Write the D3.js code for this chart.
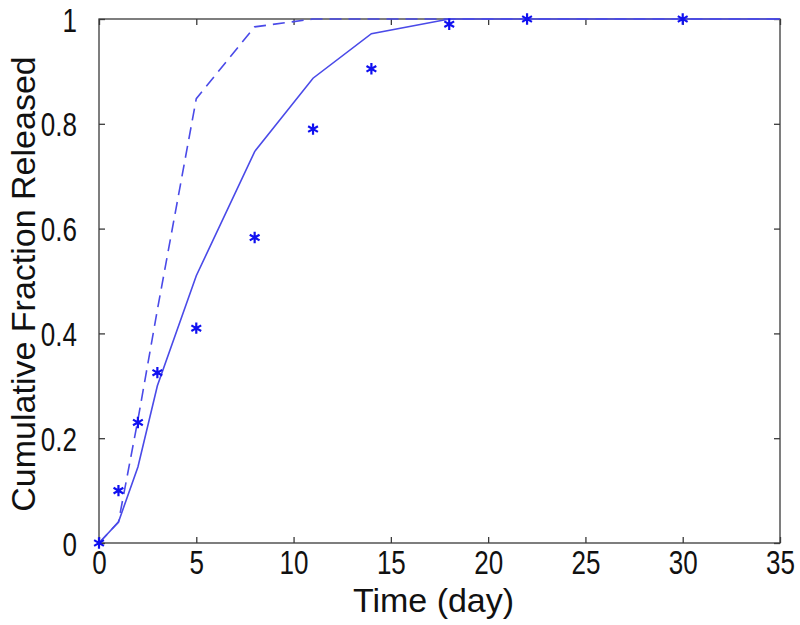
<!DOCTYPE html>
<html>
<head>
<meta charset="utf-8">
<script src="https://cdn.jsdelivr.net/npm/d3@7"></script>
<style>
  body { margin: 0; background: #fff; }
  svg { display: block; }
  text { font-family: Arial, "Liberation Sans", sans-serif; fill: #111; }
</style>
</head>
<body>
<svg id="chart" width="800" height="625"></svg>
<script>
// ---- data ----
const obsTime = [0, 1, 2, 3, 5, 8, 11, 14, 18, 22, 30];
const obsFrac = [0, 0.10, 0.23, 0.325, 0.41, 0.583, 0.79, 0.905, 0.99, 1.0, 1.0];

const solidTime = [0, 1, 2, 3, 5, 8, 11, 14, 18, 22, 30, 35];
const solidFrac = [0, 0.04, 0.145, 0.30, 0.51, 0.747, 0.887, 0.972, 1.0, 1.0, 1.0, 1.0];

const dashTime = [0, 1, 2, 3, 5, 8, 11, 14, 18, 22, 30, 35];
const dashFrac = [0, 0.04, 0.235, 0.445, 0.848, 0.985, 1.0, 1.0, 1.0, 1.0, 1.0, 1.0];

const xTicks = [0, 5, 10, 15, 20, 25, 30, 35];
const yTicks = [0, 0.2, 0.4, 0.6, 0.8, 1];
const yTickLabels = ["0", "0.2", "0.4", "0.6", "0.8", "1"];

const xLabel = "Time (day)";
const yLabel = "Cumulative Fraction Released";

// ---- layout ----
const L = 99, R = 780, T = 19, B = 543;
const svg = d3.select("#chart");
const x = d3.scaleLinear().domain([0, 35]).range([L, R]);
const y = d3.scaleLinear().domain([0, 1]).range([B, T]);

const axisColor = "#3a3a3a";
const lineColor = "#4a4ae8";
const starColor = "#1010f0";
const stretch = 1.28;

// frame
svg.append("rect").attr("x", L).attr("y", T).attr("width", R - L).attr("height", B - T)
  .attr("fill", "none").attr("stroke", axisColor).attr("stroke-width", 1.3);

// bottom axis
const gx = svg.append("g").attr("transform", `translate(0,${B})`)
  .call(d3.axisBottom(x).tickValues(xTicks).tickSizeInner(-6).tickSizeOuter(0).tickFormat(d3.format("d")));
gx.select(".domain").remove();
gx.selectAll("line").attr("stroke", axisColor).attr("stroke-width", 1.3);
gx.selectAll("text").attr("font-size", 26).attr("fill", "#111")
  .attr("y", null).attr("dy", null)
  .attr("transform", `translate(0,31) scale(1,${stretch})`);

// top axis ticks
const gxt = svg.append("g").attr("transform", `translate(0,${T})`)
  .call(d3.axisTop(x).tickValues(xTicks).tickSizeInner(-6).tickSizeOuter(0).tickFormat(""));
gxt.select(".domain").remove();
gxt.selectAll("line").attr("stroke", axisColor).attr("stroke-width", 1.3);

// left axis
const gy = svg.append("g").attr("transform", `translate(${L},0)`)
  .call(d3.axisLeft(y).tickValues(yTicks).tickSizeInner(-6).tickSizeOuter(0)
    .tickFormat((d, i) => yTickLabels[i]));
gy.select(".domain").remove();
gy.selectAll("line").attr("stroke", axisColor).attr("stroke-width", 1.3);
gy.selectAll("text").attr("font-size", 26).attr("fill", "#111")
  .attr("x", null).attr("dy", null)
  .attr("transform", `translate(-22,12) scale(1,${stretch})`);

// right axis ticks
const gyr = svg.append("g").attr("transform", `translate(${R},0)`)
  .call(d3.axisRight(y).tickValues(yTicks).tickSizeInner(-6).tickSizeOuter(0).tickFormat(""));
gyr.select(".domain").remove();
gyr.selectAll("line").attr("stroke", axisColor).attr("stroke-width", 1.3);

// axis labels
svg.append("text").attr("x", (L + R) / 2 - 6).attr("y", 612).attr("text-anchor", "middle")
  .attr("font-size", 34).text(xLabel);
svg.append("text").attr("transform", `translate(35,284) rotate(-90)`)
  .attr("text-anchor", "middle").attr("font-size", 34).text(yLabel);

// lines
const line = d3.line().x(d => x(d[0])).y(d => y(d[1]));
const solidData = solidTime.map((t, i) => [t, solidFrac[i]]);
const dashData = dashTime.map((t, i) => [t, dashFrac[i]]);

svg.append("path").datum(dashData).attr("d", line).attr("fill", "none")
  .attr("stroke", lineColor).attr("stroke-width", 1.6).attr("stroke-dasharray", "12,7");
svg.append("path").datum(solidData).attr("d", line).attr("fill", "none")
  .attr("stroke", lineColor).attr("stroke-width", 1.6);

// star markers
const obs = obsTime.map((t, i) => [t, obsFrac[i]]);
const star = d3.symbol().type(d3.symbolAsterisk).size(90);
svg.append("g").selectAll("path").data(obs).join("path")
  .attr("transform", d => `translate(${x(d[0])},${y(d[1])})`)
  .attr("d", star).attr("fill", "none").attr("stroke", starColor).attr("stroke-width", 2.2);
</script>
</body>
</html>
